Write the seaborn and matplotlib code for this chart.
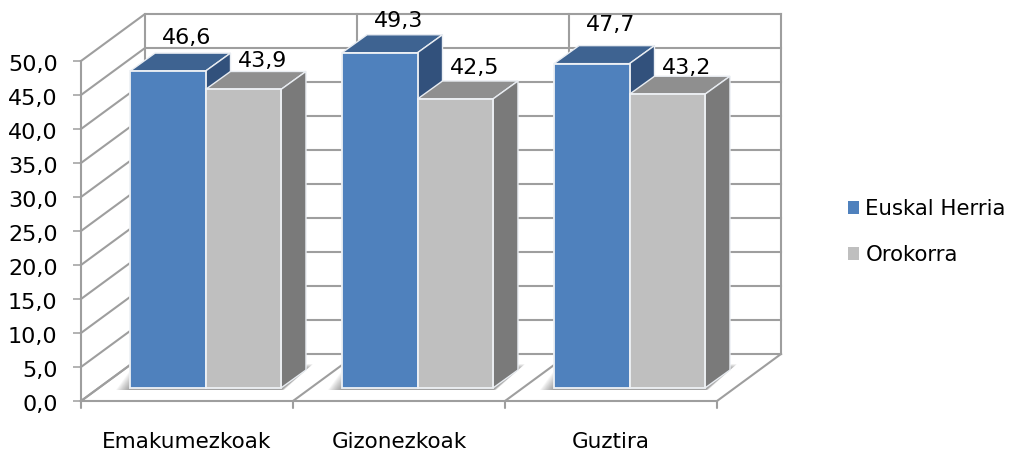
import pandas as pd
import seaborn as sns
import matplotlib.pyplot as plt
from matplotlib.patches import Polygon
from matplotlib.transforms import ScaledTranslation

categories = ["Emakumezkoak", "Gizonezkoak", "Guztira"]
euskal_herria = [46.6, 49.3, 47.7]
orokorra = [43.9, 42.5, 43.2]
series_names = ["Euskal Herria", "Orokorra"]
y_ticks = [0, 5, 10, 15, 20, 25, 30, 35, 40, 45, 50]

df = pd.DataFrame({
    "Kategoria": categories * 2,
    "Balioa": euskal_herria + orokorra,
    "Serie": [series_names[0]] * 3 + [series_names[1]] * 3,
})

sns.set_theme(style="white")
plt.rcParams["font.family"] = ["DejaVu Sans"]

GRID = "#9e9e9e"
colores = {series_names[0]: "#4f81bd", series_names[1]: "#bfbfbf"}
techo = {series_names[0]: "#3e6391", series_names[1]: "#8f8f8f"}
lado = {series_names[0]: "#32517c", series_names[1]: "#7a7a7a"}

fig = plt.figure(figsize=(10.1, 4.5), dpi=100)
ax = fig.add_axes([81 / 1010, 49 / 450, 636 / 1010, 340 / 450])

sns.barplot(data=df, x="Kategoria", y="Balioa", hue="Serie", palette=colores,
            hue_order=series_names, width=0.712, gap=0, saturation=1, ax=ax,
            edgecolor="#eef1f5", linewidth=1.3, zorder=4)
ax.set_xlim(-0.5, 2.5)
ax.set_ylim(0, 50)

# pixeles de pantalla -> unidades de datos
ux = 3 / 636
uy = 50 / 340


def pared(xs, ys):
    ax.plot(xs, ys, color=GRID, lw=1.5, clip_on=False, zorder=1,
            solid_capstyle="projecting")


# paredes del fondo (profundidad 64 px, 47 px hacia arriba)
wx = 64 * ux
wy = 47 * uy
for v in y_ticks:
    pared([-0.5, -0.5 + wx, 2.5 + wx], [v, v + wy, v + wy])
for pos in [-0.5, 0.5, 1.5, 2.5]:
    pared([pos, pos + wx], [0, wy])
    pared([pos + wx, pos + wx], [wy, 50 + wy])

# barras: se corren hacia el fondo y se agregan techo y lado
bx = 18.5 * ux
by = 13 * uy
dx = 25 * ux
dy = 18 * uy
label_lift = [[15, 10], [14, 13], [21, 8]]

# sombra en el piso, varias capas para que se difumine
for i in range(3):
    b0 = ax.containers[0][i]
    b1 = ax.containers[1][i]
    x0 = b0.get_x() + bx
    x1 = b1.get_x() + b1.get_width() + bx
    for e in range(14):
        ax.add_patch(Polygon(
            [(x0 - (14 - e) * ux, by - 2 * uy), (x1 + (3 - e * 0.2) * ux, by - 2 * uy),
             (x1 + (32 - e * 0.5) * ux, by + (24 - e * 0.4) * uy),
             (x0 + (2 + e) * ux, by + (20 - e * 0.2) * uy)],
            closed=True, fc="#666666", ec="none", alpha=0.06, zorder=2, clip_on=False))

for s, nombre in enumerate(series_names):
    for i, bar in enumerate(ax.containers[s]):
        bar.set_x(bar.get_x() + bx)
        bar.set_y(by)
        bar.set_clip_on(False)
        bar.set_zorder(4 + s * 2)
        x0 = bar.get_x()
        x1 = x0 + bar.get_width()
        top = by + bar.get_height()
        ax.add_patch(Polygon([(x0, top), (x1, top), (x1 + dx, top + dy), (x0 + dx, top + dy)],
                             closed=True, fc=techo[nombre], ec="#e9edf2", lw=1.0,
                             zorder=3 + s * 2, clip_on=False))
        ax.add_patch(Polygon([(x1, by), (x1 + dx, by + dy), (x1 + dx, top + dy), (x1, top)],
                             closed=True, fc=lado[nombre], ec="#e9edf2", lw=1.0,
                             zorder=3 + s * 2, clip_on=False))
        valor = bar.get_height()
        ax.text(x0 + bar.get_width() / 2 + 19 * ux,
                top + dy + label_lift[i][s] * uy,
                f"{valor:.1f}".replace(".", ","),
                ha="center", va="center", fontsize=16, color="black",
                zorder=10, clip_on=False)

# ejes
ax.set_xlabel("")
ax.set_ylabel("")
ax.set_yticks(y_ticks)
ax.set_yticklabels([f"{v:.1f}".replace(".", ",") for v in y_ticks], fontsize=16, color="black")
ax.tick_params(axis="y", length=5.8, width=1.1, color=GRID, pad=11, left=True)
bajar = ScaledTranslation(0, -2 / 100, fig.dpi_scale_trans)
for etiqueta in ax.get_yticklabels():
    etiqueta.set_transform(etiqueta.get_transform() + bajar)
ax.set_xticks([0, 1, 2])
ax.set_xticklabels(categories, fontsize=15.5, color="black")
ax.tick_params(axis="x", length=0, pad=22)
for p in [-0.5, 0.5, 1.5, 2.5]:
    ax.plot([p, p], [0, -7 * uy], color=GRID, lw=1.5, clip_on=False, zorder=1)
for lado_eje in ["top", "right"]:
    ax.spines[lado_eje].set_visible(False)
for lado_eje in ["left", "bottom"]:
    ax.spines[lado_eje].set_color(GRID)
    ax.spines[lado_eje].set_linewidth(1.5)
ax.patch.set_alpha(0)

# leyenda
handles, labels = ax.get_legend_handles_labels()
for h in handles:
    h.set_edgecolor("none")
ax.legend(handles, labels, loc="center left", bbox_to_anchor=(848 / 1010, 1 - 232 / 450),
          bbox_transform=fig.transFigure, frameon=False, fontsize=15.3,
          labelcolor="black", handlelength=0.52, handleheight=0.52, handletextpad=0.3,
          labelspacing=1.22, borderpad=0, borderaxespad=0)

fig.savefig("out.png", dpi=100)
